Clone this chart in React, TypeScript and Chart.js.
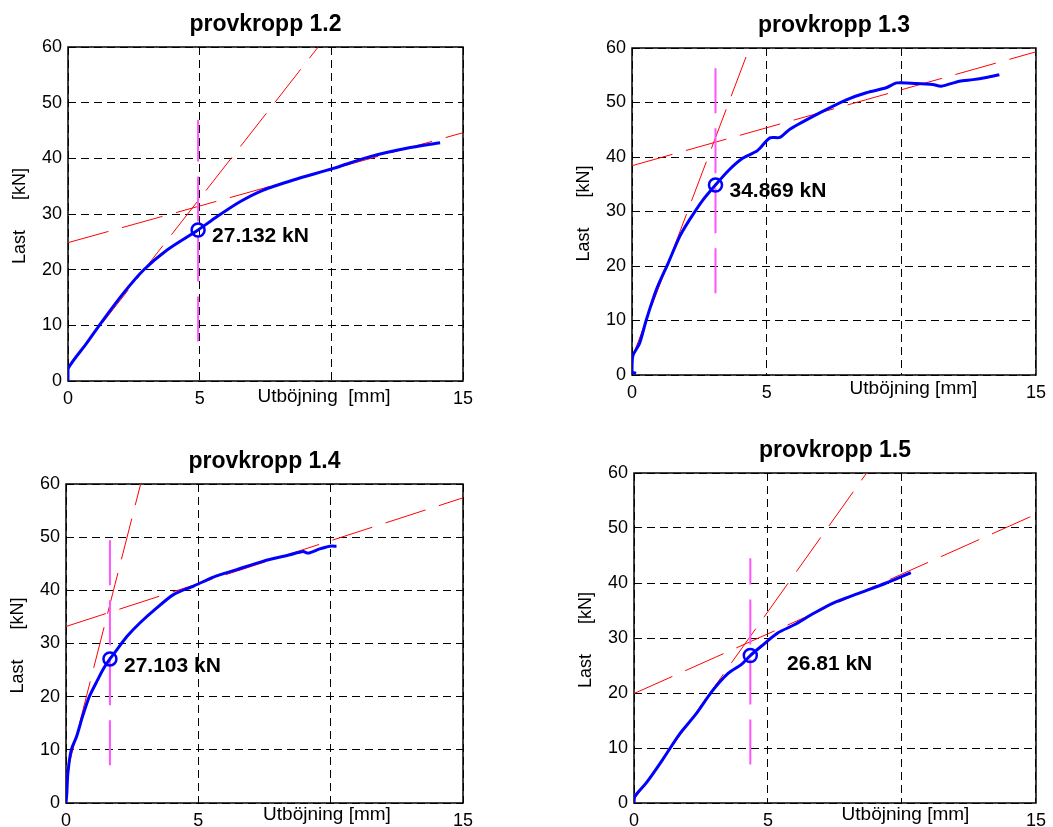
import React, { useEffect, useRef } from 'react';
import { Chart, registerables } from 'chart.js';

Chart.register(...registerables);

// ---------------- data ----------------
const titles = ['provkropp 1.2', 'provkropp 1.3', 'provkropp 1.4', 'provkropp 1.5'];
const xAxisLabels = ['Utböjning  [mm]', 'Utböjning [mm]', 'Utböjning [mm]', 'Utböjning [mm]'];
const yAxisLabel = 'Last      [kN]';
const xTicks = [0, 5, 10, 15];
const xTickLabels = ['0', '5', '', '15'];
const yTicks = [0, 10, 20, 30, 40, 50, 60];

// measured load–deflection curves
const curve12X = [0, 0, 0.71, 1.34, 2.1, 2.86, 3.75, 4.94, 5.65, 6.53, 7.42, 8.56, 10.08, 11.47, 12.86, 14.13];
const curve12Y = [0, 2.2, 6.8, 11.0, 15.75, 19.9, 23.5, 27.13, 29.5, 32.2, 34.3, 36.1, 38.2, 40.3, 41.8, 42.8];

const curve13X = [0.15, 0.0, 0.03, 0.28, 0.53, 0.9, 1.34, 1.77, 2.14, 2.63, 3.1, 3.62, 4.12, 4.61, 4.75, 5.12, 5.49, 5.86, 6.97, 7.96, 8.7, 9.44, 9.83, 10.55, 11.17, 11.48, 12.16, 12.66, 13.15, 13.64];
const curve13Y = [0.3, 0.6, 3.5, 5.8, 10.1, 15.6, 20.5, 25.4, 28.5, 32.1, 34.87, 37.7, 39.8, 41.0, 41.6, 43.5, 43.6, 45.1, 48.1, 50.5, 51.8, 52.7, 53.6, 53.5, 53.3, 53.0, 53.9, 54.2, 54.6, 55.1];

const curve14X = [0, 0.03, 0.07, 0.2, 0.4, 0.62, 0.88, 1.2, 1.42, 1.66, 1.92, 2.3, 2.8, 3.43, 4.06, 4.82, 5.57, 6.45, 7.46, 8.46, 8.96, 9.15, 9.59, 9.97, 10.22];
const curve14Y = [0, 1.8, 5.6, 10.0, 12.5, 16.2, 20.0, 23.2, 25.3, 27.1, 28.8, 31.3, 33.9, 36.7, 39.2, 40.8, 42.5, 43.9, 45.5, 46.7, 47.3, 47.0, 47.8, 48.3, 48.3];

const curve15X = [0, 0.03, 0.45, 1.07, 1.68, 2.3, 2.91, 3.52, 4.01, 4.34, 4.75, 5.36, 5.98, 6.71, 7.45, 8.43, 9.41, 10.33];
const curve15Y = [0, 1.2, 3.6, 7.9, 12.4, 16.1, 20.3, 23.6, 25.2, 26.81, 28.5, 30.9, 32.4, 34.5, 36.4, 38.2, 40.0, 41.9];

// tangent lines (initial stiffness and hardening)
const steep12X = [0, 9.5];
const steep12Y = [2.5, 60];
const shallow12X = [0, 15];
const shallow12Y = [24.85, 44.6];

const steep13X = [0, 4.36];
const steep13Y = [3.1, 60];
const shallow13X = [0, 15];
const shallow13Y = [38.4, 59.3];

const steep14X = [0, 2.82];
const steep14Y = [5, 60];
const shallow14X = [0, 15];
const shallow14Y = [33.2, 57.4];

const steep15X = [0, 8.68];
const steep15Y = [0.6, 60];
const shallow15X = [0, 15];
const shallow15Y = [19.9, 52.5];

// vertical marker lines through the intersection
const vline12Y = [7.1, 46.9];
const vline13Y = [15, 58];
const vline14Y = [7.1, 51.2];
const vline15Y = [7.0, 44.5];

// yield points
const markerX = [4.94, 3.1, 1.66, 4.34];
const markerY = [27.132, 34.869, 27.103, 26.81];
const markerLabels = ['27.132 kN', '34.869 kN', '27.103 kN', '26.81 kN'];
const labelX = [5.47, 3.62, 2.19, 5.71];
const labelY = [24.97, 32.6, 24.7, 24.2];
// x-axis label centre (in mm)
const xLabelAt = [9.72, 10.45, 9.86, 10.13];

const curvesX = [curve12X, curve13X, curve14X, curve15X];
const curvesY = [curve12Y, curve13Y, curve14Y, curve15Y];
const steepX = [steep12X, steep13X, steep14X, steep15X];
const steepY = [steep12Y, steep13Y, steep14Y, steep15Y];
const shallowX = [shallow12X, shallow13X, shallow14X, shallow15X];
const shallowY = [shallow12Y, shallow13Y, shallow14Y, shallow15Y];
const vlineY = [vline12Y, vline13Y, vline14Y, vline15Y];

// ---------------- layout ----------------
const layouts = [
  { left: 0, top: 0, w: 526, h: 413, area: { l: 68, t: 47, r: 463, b: 381 }, xlabDy: 20.5 },
  { left: 526, top: 0, w: 527, h: 413, area: { l: 632, t: 48, r: 1037, b: 375 }, xlabDy: 18.5 },
  { left: 0, top: 413, w: 526, h: 420, area: { l: 66, t: 484, r: 463, b: 803 }, xlabDy: 17 },
  { left: 526, top: 413, w: 527, h: 420, area: { l: 634, t: 473, r: 1042, b: 803 }, xlabDy: 17 },
];
const Y_AXIS_W = 44;
const X_AXIS_H = 28;
const FONT = "'Liberation Sans', Arial, Helvetica, sans-serif";

const zip = (xs: number[], ys: number[]) => xs.map((x, i) => ({ x, y: ys[i] }));

const decorPlugin = {
  id: 'decor',
  beforeDatasetsDraw(chart: any) {
    const { ctx, chartArea: a } = chart;
    ctx.save();
    ctx.strokeStyle = '#000';
    ctx.lineWidth = 1.5;
    ctx.strokeRect(a.left, a.top, a.right - a.left, a.bottom - a.top);
    ctx.restore();
  },
  afterDraw(chart: any, _args: any, opts: any) {
    const { ctx, chartArea: a, scales } = chart;
    ctx.save();
    ctx.fillStyle = '#000';
    // title
    ctx.font = `bold 23px ${FONT}`;
    ctx.textAlign = 'center';
    ctx.textBaseline = 'alphabetic';
    ctx.fillText(opts.title, (a.left + a.right) / 2, a.top - 16);
    // x label
    ctx.font = `19px ${FONT}`;
    ctx.textAlign = 'center';
    ctx.textBaseline = 'alphabetic';
    ctx.fillText(opts.xlabel, scales.x.getPixelForValue(opts.xlabAt), a.bottom + opts.xlabDy);
    // y label
    ctx.save();
    ctx.translate(a.left - 48, (a.top + a.bottom) / 2 + 2);
    ctx.rotate(-Math.PI / 2);
    ctx.font = `18px ${FONT}`;
    ctx.textAlign = 'center';
    ctx.textBaseline = 'middle';
    ctx.fillText(opts.ylabel, 0, 0);
    ctx.restore();
    // annotation
    ctx.font = `bold 21px ${FONT}`;
    ctx.textAlign = 'left';
    ctx.textBaseline = 'alphabetic';
    ctx.fillText(opts.label, scales.x.getPixelForValue(opts.lx), scales.y.getPixelForValue(opts.ly));
    ctx.restore();
  },
};

function Panel({ idx }: { idx: number }) {
  const ref = useRef<HTMLCanvasElement>(null);
  const L = layouts[idx];
  useEffect(() => {
    if (!ref.current) return;
    const a = L.area;
    const padding = {
      left: a.l - L.left - Y_AXIS_W,
      top: a.t - L.top,
      right: L.left + L.w - a.r,
      bottom: L.top + L.h - a.b - X_AXIS_H,
    };
    const chart = new Chart(ref.current, {
      type: 'line',
      data: {
        datasets: [
          {
            data: [{ x: markerX[idx], y: markerY[idx] }],
            showLine: false,
            pointRadius: 6.5,
            pointBorderWidth: 2.5,
            pointBorderColor: '#0000ff',
            pointBackgroundColor: 'rgba(0,0,0,0)',
            order: 0,
          },
          {
            data: zip(curvesX[idx], curvesY[idx]),
            borderColor: '#0000ff',
            borderWidth: 3,
            pointRadius: 0,
            tension: 0.25,
            order: 1,
          },
          {
            data: zip([markerX[idx], markerX[idx]], vlineY[idx]),
            borderColor: '#ff55ff',
            borderWidth: 2,
            borderDash: [45, 15],
            pointRadius: 0,
            order: 2,
          },
          {
            data: zip(steepX[idx], steepY[idx]),
            borderColor: '#ff0000',
            borderWidth: 1,
            borderDash: [42, 14],
            pointRadius: 0,
            order: 3,
          },
          {
            data: zip(shallowX[idx], shallowY[idx]),
            borderColor: '#ff0000',
            borderWidth: 1,
            borderDash: [42, 14],
            pointRadius: 0,
            order: 4,
          },
        ],
      },
      options: {
        responsive: false,
        animation: false,
        devicePixelRatio: 1,
        layout: { padding },
        plugins: {
          legend: { display: false },
          tooltip: { enabled: false },
          title: { display: false },
          decor: {
            title: titles[idx],
            xlabel: xAxisLabels[idx],
            xlabAt: xLabelAt[idx],
            xlabDy: L.xlabDy,
            ylabel: yAxisLabel,
            label: markerLabels[idx],
            lx: labelX[idx],
            ly: labelY[idx],
          },
        } as any,
        scales: {
          x: {
            type: 'linear',
            min: 0,
            max: 15,
            afterBuildTicks: (s: any) => {
              s.ticks = xTicks.map((v) => ({ value: v }));
            },
            afterFit: (s: any) => {
              s.height = X_AXIS_H;
            },
            ticks: {
              autoSkip: false,
              maxRotation: 0,
              minRotation: 0,
              padding: 7,
              color: '#000',
              font: { family: FONT, size: 18 },
              callback: (v: any) => xTickLabels[xTicks.indexOf(v)] ?? String(v),
            },
            grid: { color: '#000', lineWidth: 1, drawTicks: false },
            border: { display: false, dash: [8, 5] },
          },
          y: {
            type: 'linear',
            min: 0,
            max: 60,
            afterBuildTicks: (s: any) => {
              s.ticks = yTicks.map((v) => ({ value: v }));
            },
            afterFit: (s: any) => {
              s.width = Y_AXIS_W;
            },
            ticks: {
              padding: 6,
              color: '#000',
              font: { family: FONT, size: 18 },
              callback: (v: any) => String(v),
            },
            grid: { color: '#000', lineWidth: 1, drawTicks: false },
            border: { display: false, dash: [8, 5] },
          },
        },
      },
      plugins: [decorPlugin],
    } as any);
    return () => chart.destroy();
  }, [idx]);
  return (
    <canvas
      ref={ref}
      width={L.w}
      height={L.h}
      style={{ position: 'absolute', left: L.left, top: L.top, width: L.w, height: L.h }}
    />
  );
}

export default function App() {
  return (
    <div
      style={{
        position: 'absolute',
        left: 0,
        top: 0,
        width: 1053,
        height: 827,
        overflow: 'hidden',
        background: '#fff',
      }}
    >
      {[0, 1, 2, 3].map((i) => (
        <Panel key={i} idx={i} />
      ))}
    </div>
  );
}
